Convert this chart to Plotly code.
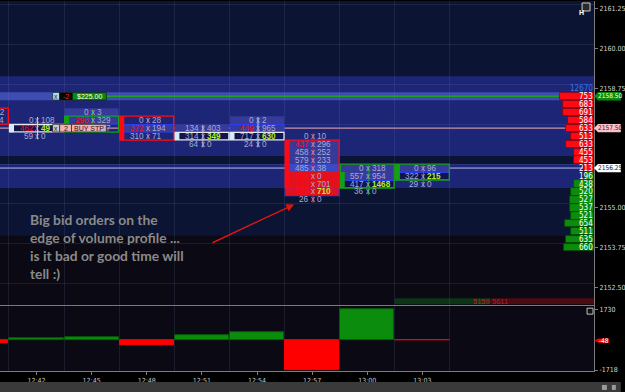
import plotly.graph_objects as go

# ================= DATA =================
time_ticks = [42, 45, 48, 51, 54, 57, 60, 63]          # minutes after 12:00 (bar centres)
time_labels = ["12:42", "12:45", "12:48", "12:51", "12:54", "12:57", "13:00", "13:03"]
price_ticks = [2152.50, 2153.75, 2155.00, 2156.25, 2157.50, 2158.75, 2160.00, 2161.25]

delta_times = [39, 42, 45, 48, 51, 54, 57, 60, 63]
delta_values = [-190, 70, 150, -320, 260, 430, -1700, 1730, -48]
delta_ticks = [1730, -1718]

profile_prices = [2158.50, 2158.25, 2158.00, 2157.75, 2157.50, 2157.25, 2157.00, 2156.75,
                  2156.50, 2156.25, 2156.00, 2155.75, 2155.50, 2155.25, 2155.00, 2154.75,
                  2154.50, 2154.25, 2154.00, 2153.75]
profile_volumes = [753, 683, 691, 584, 633, 513, 633, 455, 453, 213,
                   196, 438, 520, 527, 537, 521, 654, 511, 635, 660]
profile_total = 12670

cell_times = [39, 39, 42, 42, 42, 45, 45, 45, 48, 48, 48, 51, 51, 51,
              54, 54, 54, 54, 57, 57, 57, 57, 57, 57, 57, 57, 57,
              60, 60, 60, 60, 63, 63, 63]
cell_prices = [2158.00, 2157.75, 2157.75, 2157.50, 2157.25, 2158.00, 2157.75, 2157.50,
               2157.75, 2157.50, 2157.25, 2157.50, 2157.25, 2157.00,
               2157.75, 2157.50, 2157.25, 2157.00,
               2157.25, 2157.00, 2156.75, 2156.50, 2156.25, 2156.00, 2155.75, 2155.50, 2155.25,
               2156.25, 2156.00, 2155.75, 2155.50, 2156.25, 2156.00, 2155.75]
cell_bids = [612, 540, 0, 462, 59, 0, 298, 281, 0, 372, 310, 134, 314, 64,
             0, 449, 717, 24, 0, 437, 458, 579, 485, 694, 723, 845, 26,
             0, 557, 417, 36, 0, 322, 29]
cell_asks = [1052, 1184, 108, 49, 0, 3, 329, 327, 28, 194, 71, 403, 349, 0,
             2, 965, 630, 0, 10, 296, 252, 233, 38, 0, 701, 710, 0,
             318, 954, 1468, 0, 96, 215, 0]

candle_times = [42, 45, 48, 51, 54, 57, 60, 63]
candle_open = [2157.50, 2157.50, 2157.75, 2157.25, 2157.25, 2157.00, 2155.75, 2156.00]
candle_close = [2157.50, 2157.75, 2157.25, 2157.25, 2157.25, 2155.75, 2156.00, 2156.25]
candle_high = [2157.75, 2158.00, 2157.75, 2157.50, 2157.75, 2157.25, 2156.25, 2156.25]
candle_low = [2157.25, 2157.50, 2157.25, 2157.00, 2157.00, 2155.25, 2155.50, 2155.75]

last_price = 2156.25
order_time = 45
order_price = 2157.50
order_qty = 2
order_type = "BUY STP"
position_price = 2158.50
position_qty = -2
position_pnl = "$225.00"
bar_bid_total = 5159
bar_ask_total = 5611
value_area_high = 2159.00
value_area_low = 2155.75
low_volume_node = 2156.50
profile_zone_low = 2154.25

note = "Big bid orders on the<br>edge of volume profile ...<br>is it bad or good time will<br>tell :)"

# ================= STYLE / GEOMETRY =================
W, H = 625, 392
PW, PH = 598, 371
PXM = 18.5                       # px per minute
T_LEFT = 40.5 - 9 / PXM
T_RIGHT = T_LEFT + PW / PXM
PPP = 32.0                       # px per price point
P_TOP = 2158.50 + 95.5 / PPP
P_BOT = P_TOP - 305 / PPP
HR = 0.125
HALF = 1.5
D_TOP = 1730 + 3 * (3448 / 61)
D_BOT = -1718 - 1 * (3448 / 61)

NAVY = '#0c1434'
BLUE = '#1d2676'
STRIP = '#3d4db2'
BLACK_BG = '#0a0914'
GRID = 'rgba(120,130,175,0.16)'
AXIS = '#7c7c7c'
TXT = '#a6aad4'
RED = '#ff0a14'
GREEN = '#0c8c0c'
LIME = '#b4f020'
NARROW = 'Liberation Sans Narrow, DejaVu Sans Condensed, Liberation Sans, Arial'
CF = 'Liberation Sans, Arial'
CELL_FS = 8.2


def mpx(px):
    return px / PXM


def pxp(px):
    return px / PW


def pyp(py):
    return (PH - py) / PH


def tp(t):
    return (t - T_LEFT) / (T_RIGHT - T_LEFT)


shapes = []
annotations = []


def rect(x0, x1, y0, y1, fill=None, line=None, lw=1.0, layer='between', xref='x', yref='y'):
    shapes.append(dict(type='rect', xref=xref, yref=yref, x0=x0, x1=x1, y0=y0, y1=y1,
                       fillcolor=fill if fill else 'rgba(0,0,0,0)',
                       line=dict(color=line if line else 'rgba(0,0,0,0)', width=lw if line else 0),
                       layer=layer))


def hline(x0, x1, y, color, width=1.0, xref='paper', yref='y', layer='between'):
    shapes.append(dict(type='line', xref=xref, yref=yref, x0=x0, x1=x1, y0=y, y1=y,
                       line=dict(color=color, width=width), layer=layer))


def text(x, y, s, size=7, color='#ffffff', xanchor='center', xref='paper', yref='y',
         family=CF, bold=False):
    annotations.append(dict(x=x, y=y, xref=xref, yref=yref, text=s, showarrow=False,
                            xanchor=xanchor, yanchor='middle', borderpad=0, borderwidth=0,
                            font=dict(family=family, size=size, color=color,
                                      weight='bold' if bold else 'normal')))


# ---- background bands of the profile ----
rect(0, 1, profile_zone_low - HR, P_TOP, NAVY, layer='below', xref='paper')
rect(0, 1, value_area_low - HR, value_area_high + HR, BLUE, layer='below', xref='paper')
rect(0, 1, low_volume_node - HR, low_volume_node + HR, NAVY, layer='below', xref='paper')
rect(0, 1, position_price - HR, position_price + HR, STRIP, layer='below', xref='paper')

# ---- horizontal price lines ----
hline(0, 1, order_price, '#c994aa', 1.2)
hline(0, 1, last_price, '#b6bbe8', 1.0)
hline(pxp(107), 1, position_price, '#1ea01e', 1.6)

# ---- footprint cell styling ----
fill_light = {(45, 2158.00), (45, 2157.75), (48, 2157.50), (51, 2157.50), (54, 2157.75),
              (54, 2157.50), (57, 2157.00), (57, 2156.75), (57, 2156.50), (60, 2156.25),
              (60, 2156.00), (63, 2156.25)}
fill_blue = {(57, 2156.25)}
fill_red = {(57, 2156.00), (57, 2155.75), (57, 2155.50)}
fill_dark = {(42, 2157.50), (51, 2157.25), (54, 2157.25), (60, 2155.75), (63, 2156.00)}
border_white = {(42, 2157.50), (51, 2157.25), (54, 2157.25)}
border_blue = {(45, 2157.75), (48, 2157.50), (54, 2157.50), (57, 2155.50), (60, 2155.75), (63, 2156.00)}
bid_hi = {(39, 2158.00), (39, 2157.75), (42, 2157.50), (45, 2157.75), (48, 2157.50), (54, 2157.50),
          (57, 2157.00), (57, 2156.00), (57, 2155.75), (57, 2155.50)}
ask_hi = {(42, 2157.50), (51, 2157.25), (54, 2157.25), (57, 2155.50), (60, 2155.75), (63, 2156.00)}
boxes = [(39, 2158.00, 2157.75, RED), (45, 2157.75, 2157.50, '#14a014'), (48, 2157.75, 2157.25, RED),
         (57, 2157.00, 2155.75, RED), (60, 2156.25, 2155.75, '#14a014'), (63, 2156.25, 2156.00, '#14a014')]

cell_keys = list(zip(cell_times, cell_prices))
for (t, p) in cell_keys:
    x0, x1 = t - HALF + mpx(0.6), t + HALF - mpx(0.6)
    col = None
    if (t, p) in fill_light:
        col = '#363a98'
    if (t, p) in fill_blue:
        col = '#3a4ac4'
    if (t, p) in fill_red:
        col = '#e3101e'
    if (t, p) in fill_dark:
        col = '#10164c'
    if col:
        rect(x0, x1, p - HR, p + HR, col)
for (t, p) in cell_keys:
    x0, x1 = t - HALF + mpx(0.6), t + HALF - mpx(0.6)
    if (t, p) in border_white:
        rect(x0, x1, p - HR + 0.01, p + HR - 0.01, None, '#e8e8f2', 1.3)
    if (t, p) in border_blue:
        rect(x0, x1, p - HR + 0.01, p + HR - 0.01, None, '#2a3cf0', 1.2)
for (t, hi, lo, c) in boxes:
    rect(t - HALF + mpx(0.6), t + HALF - mpx(0.6), lo - HR, hi + HR, None, c, 1.3)

# candle bodies & wicks
for t, o, c, h, l in zip(candle_times, candle_open, candle_close, candle_high, candle_low):
    if c > o:
        col = '#14a014'
    elif c < o:
        col = RED
    else:
        col = '#d6ecf6'
    x0 = t - HALF + mpx(0.6)
    rect(x0, x0 + mpx(4.5), min(o, c) - HR, max(o, c) + HR, col)
    shapes.append(dict(type='line', xref='x', yref='y', x0=t + mpx(1), x1=t + mpx(1),
                       y0=l - 0.1, y1=h + 0.1, line=dict(color=col if c != o else '#cfd3e6', width=1),
                       layer='between'))

# ---- footprint numbers (bid x ask) ----
for (t, p), b, a in zip(cell_keys, cell_bids, cell_asks):
    cx = tp(t) + pxp(1)
    bc = RED if (t, p) in bid_hi else TXT
    ac = LIME if (t, p) in ask_hi else TXT
    under_tag = (t == order_time and p == order_price)   # hidden by the order tag
    if not under_tag:
        text(cx - pxp(4), p, str(b), CELL_FS, bc, xanchor='right')
        text(cx, p, "x", CELL_FS, TXT)
    text(cx + pxp(4), p, str(a), CELL_FS, ac, xanchor='left', bold=(t, p) in ask_hi)

# ---- order / position tags ----
tag_h = 0.12
rect(T_LEFT + mpx(53), T_LEFT + mpx(60), position_price - tag_h, position_price + tag_h, '#a8dcec', '#203040', 0.8, 'above')
rect(T_LEFT + mpx(60), T_LEFT + mpx(73), position_price - tag_h, position_price + tag_h, '#050505', '#202020', 0.8, 'above')
rect(T_LEFT + mpx(73), T_LEFT + mpx(107), position_price - tag_h, position_price + tag_h, '#0a8a0a', '#063006', 0.8, 'above')
text(pxp(56.5), position_price, "x", 7, '#203040')
text(pxp(66.5), position_price, str(position_qty), 7, '#ff2020')
text(pxp(90), position_price, position_pnl, 7, '#ffffff')

rect(T_LEFT + mpx(53), T_LEFT + mpx(60), order_price - tag_h, order_price + tag_h, '#c8ccd8', '#303030', 0.8, 'above')
rect(T_LEFT + mpx(60), T_LEFT + mpx(72), order_price - tag_h, order_price + tag_h, '#f4b0b4', '#303030', 0.8, 'above')
rect(T_LEFT + mpx(72), T_LEFT + mpx(107), order_price - tag_h, order_price + tag_h, '#f4b0b4', '#303030', 0.8, 'above')
text(pxp(56.5), order_price, "x", 7, '#202020')
text(pxp(66), order_price, str(order_qty), 7, '#202020')
text(pxp(89.5), order_price, order_type, 7, '#301010')


# ---- right-hand price tags ----
def price_tag(y, label, bg, fg, yref='y', x_left=602, x_right=625, span=0.13):
    shapes.append(dict(type='path', xref='paper', yref=yref, layer='above',
                       path=f"M {pxp(598)},{y} L {pxp(x_left)},{y + span} L {pxp(x_right)},{y + span} "
                            f"L {pxp(x_right)},{y - span} L {pxp(x_left)},{y - span} Z",
                       fillcolor=bg, line=dict(color=bg, width=0)))
    text(pxp((x_left + x_right) / 2 + 0.5), y, label, 6.5, fg, yref=yref, family=NARROW)


price_tag(position_price, f"{position_price:.2f}", '#0a8a0a', '#ffffff')
price_tag(order_price, f"{order_price:.2f}", '#ffc0cc', '#202020')
price_tag(last_price, f"{last_price:.2f}", '#ffffff', '#101010')
price_tag(delta_values[-1], str(delta_values[-1]), '#ff0000', '#ffffff', yref='y2',
          x_left=603, x_right=613, span=120)

# ---- profile labels and total ----
for p, v in zip(profile_prices, profile_volumes):
    text(pxp(597), p, str(v), 8, '#ffffff', xanchor='right', family=NARROW)
text(pxp(597), 2158.75, str(profile_total), 8, '#3b76e0', xanchor='right', family=NARROW)

# ---- current bar bid/ask totals strip ----
split_px = 397.5 + (PW - 397.5) * bar_bid_total / (bar_bid_total + bar_ask_total)
rect(pxp(397.5), pxp(split_px), pyp(304), pyp(298), '#0d3414', layer='between', xref='paper', yref='paper')
rect(pxp(split_px), 1, pyp(304), pyp(298), '#4a0b12', layer='between', xref='paper', yref='paper')
annotations.append(dict(x=pxp(split_px), y=pyp(301), xref='paper', yref='paper', text=str(bar_bid_total),
                        showarrow=False, xanchor='right', yanchor='middle', borderpad=0, borderwidth=0,
                        font=dict(family=CF, size=7.5, color='#d01c1c')))
annotations.append(dict(x=pxp(split_px + 1.5), y=pyp(301), xref='paper', yref='paper', text=str(bar_ask_total),
                        showarrow=False, xanchor='left', yanchor='middle', borderpad=0, borderwidth=0,
                        font=dict(family=CF, size=7.5, color='#b81c24')))

# ---- icons / scrollbar ----
rect(pxp(586), pxp(594), pyp(10), pyp(2), '#2a2a2a', '#d0d0d0', 1, 'above', 'paper', 'paper')
annotations.append(dict(x=pxp(590), y=pyp(6), xref='paper', yref='paper', text='<b>H</b>', showarrow=False,
                        font=dict(family=CF, size=7, color='#ffffff')))
rect(pxp(591), pxp(597), pyp(314), pyp(308), '#101010', '#c0c0c0', 1, 'above', 'paper', 'paper')
rect(0, pxp(W), pyp(392), pyp(382), '#3a3a3a', None, 1, 'above', 'paper', 'paper')
rect(pxp(606), pxp(611), pyp(390), pyp(385), '#9a9a9a', None, 1, 'above', 'paper', 'paper')
rect(pxp(616), pxp(620), pyp(390), pyp(385), '#9a9a9a', None, 1, 'above', 'paper', 'paper')

# ---- commentary ----
annotations.append(dict(x=pxp(28), y=pyp(246.5), xref='paper', yref='paper', text=note, showarrow=False,
                        xanchor='left', yanchor='middle', align='left',
                        font=dict(family='Lato, Open Sans, sans-serif', size=13.8, color='#8a8a8a',
                                  weight='bold')))
annotations.append(dict(x=pxp(296), y=pyp(204), xref='paper', yref='paper', text='', showarrow=True,
                        ax=213 - 296, ay=243 - 204, arrowhead=2, arrowsize=1.1, arrowwidth=1.4,
                        arrowcolor='#e01414'))

# ================= TRACES =================
fig = go.Figure()

prof_colors = [RED if p >= last_price else GREEN for p in profile_prices]
prof_lines = ['#8a0008' if p >= last_price else '#064a06' for p in profile_prices]
fig.add_trace(go.Bar(x=profile_volumes, y=profile_prices, orientation='h', xaxis='x3', yaxis='y',
                     width=0.225, marker=dict(color=prof_colors, line=dict(color=prof_lines, width=0.8)),
                     hoverinfo='skip', showlegend=False))

d_colors = [GREEN if v > 0 else '#ff0000' for v in delta_values]
d_lines = ['#055a05' if v > 0 else '#ff0000' for v in delta_values]
fig.add_trace(go.Bar(x=delta_times, y=delta_values, xaxis='x2', yaxis='y2', width=2.95,
                     marker=dict(color=d_colors, line=dict(color=d_lines, width=1)),
                     hoverinfo='skip', showlegend=False))

boundaries = [time_ticks[0] - 3 * HALF] + [t - HALF for t in time_ticks] + [time_ticks[-1] + HALF]
grid_prices = [p + HR for p in price_ticks]
covered = {order_price, last_price}
price_ticktext = ["" if p in covered else f"{p:.2f}" for p in price_ticks]

fig.update_layout(
    width=W, height=H, margin=dict(l=0, r=W - PW, t=0, b=H - PH, pad=0),
    paper_bgcolor='#000000', plot_bgcolor=BLACK_BG,
    bargap=0, showlegend=False,
    shapes=shapes, annotations=annotations,
    xaxis=dict(domain=[0, 1], range=[T_LEFT, T_RIGHT], anchor='y', showticklabels=False, ticks='',
               showgrid=False, zeroline=False, showline=False, fixedrange=True,
               minor=dict(tickmode='array', tickvals=boundaries, showgrid=True, gridcolor=GRID,
                          gridwidth=1, ticks='')),
    xaxis2=dict(domain=[0, 1], range=[T_LEFT, T_RIGHT], anchor='y2', tickmode='array',
                tickvals=time_ticks, ticktext=time_labels, ticks='outside', ticklen=3,
                tickcolor=AXIS, tickfont=dict(family=NARROW, size=7, color='#c8c8c8'),
                showgrid=False, zeroline=False, showline=True, mirror=True, linecolor=AXIS,
                linewidth=1,
                minor=dict(tickmode='array', tickvals=boundaries, showgrid=True, gridcolor=GRID,
                           gridwidth=1, ticks='')),
    xaxis3=dict(overlaying='x', range=[13250, 0], anchor='y', visible=False, fixedrange=True),
    yaxis=dict(domain=[pyp(305), 1], range=[P_BOT, P_TOP], side='right', anchor='x',
               tickmode='array', tickvals=price_ticks, ticktext=price_ticktext,
               ticks='outside', ticklen=3, tickcolor=AXIS,
               tickfont=dict(family=NARROW, size=7, color='#d2d2d2'),
               showgrid=False, zeroline=False, showline=True, linecolor=AXIS, linewidth=1,
               minor=dict(tickmode='array', tickvals=grid_prices, showgrid=True, gridcolor=GRID,
                          gridwidth=1, ticks='')),
    yaxis2=dict(domain=[0, pyp(306)], range=[D_BOT, D_TOP], side='right', anchor='x2',
                tickmode='array', tickvals=delta_ticks, ticktext=[str(v) for v in delta_ticks],
                ticks='outside', ticklen=3, tickcolor=AXIS,
                tickfont=dict(family=NARROW, size=7, color='#d2d2d2'),
                showgrid=False, zeroline=False, showline=True, linecolor=AXIS, linewidth=1),
)

fig.write_html("out.html", config={'displayModeBar': False})
